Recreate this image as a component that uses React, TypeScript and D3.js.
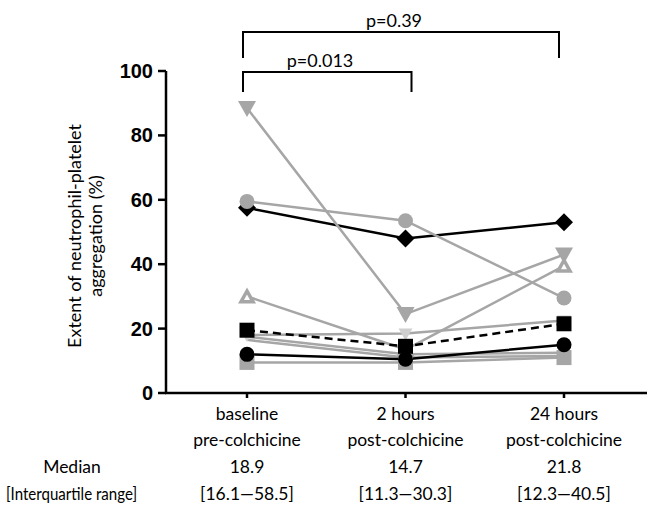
import React from "react";
import * as d3 from "d3";

const catLine1 = ["baseline", "2 hours", "24 hours"];
const catLine2 = ["pre-colchicine", "post-colchicine", "post-colchicine"];
const medians = ["18.9", "14.7", "21.8"];
const iqrs = ["[16.1\u201458.5]", "[11.3\u201430.3]", "[12.3\u201440.5]"];
const yTicks = [0, 20, 40, 60, 80, 100];

// patient series (draw order)
const sDiamondBlack = [57.5, 48, 53];
const sCircleGray = [59.5, 53.5, 29.5];
const sInvTriGray = [88.5, 24.5, 43];
const sTriOpenGray = [30, 13.5, 39.5];
const sInvTriLight = [18, 18.5, 22.5];
const sLineGray1 = [17.5, 12, 12.5];
const sLineGray2 = [16.5, 11, 11.5];
const sSquareGray = [9.5, 9.5, 11];
const sCircleBlack = [12, 10.5, 15];
const sSquareBlack = [19.5, 14.5, 21.5];

const GRAY = "#a6a6a6";
const LIGHT = "#cfcfcf";

type S = { v: number[]; color: string; marker: string; dash?: string; lineColor?: string };
const series: S[] = [
  { v: sLineGray1, color: GRAY, marker: "none" },
  { v: sLineGray2, color: GRAY, marker: "none" },
  { v: sInvTriLight, color: LIGHT, marker: "invtri-small", lineColor: GRAY },
  { v: sDiamondBlack, color: "#000", marker: "diamond" },
  { v: sCircleGray, color: GRAY, marker: "circle" },
  { v: sInvTriGray, color: GRAY, marker: "invtri" },
  { v: sTriOpenGray, color: GRAY, marker: "triopen" },
  { v: sSquareGray, color: GRAY, marker: "square" },
  { v: sCircleBlack, color: "#000", marker: "circle" },
  { v: sSquareBlack, color: "#000", marker: "square", dash: "8,5" },
];

const FONT = "Lato, 'Open Sans', sans-serif";

function Marker({ type, x, y, color }: { type: string; x: number; y: number; color: string }) {
  if (type === "circle") return <circle cx={x} cy={y} r={7.5} fill={color} />;
  if (type === "square") return <rect x={x - 7.5} y={y - 7.5} width={15} height={15} fill={color} />;
  if (type === "diamond")
    return <path d={`M${x},${y - 9}L${x + 9},${y}L${x},${y + 9}L${x - 9},${y}Z`} fill={color} />;
  if (type === "invtri")
    return <path d={`M${x - 9},${y - 7}L${x + 9},${y - 7}L${x},${y + 9}Z`} fill={color} />;
  if (type === "invtri-small")
    return <path d={`M${x - 7},${y - 5}L${x + 7},${y - 5}L${x},${y + 7}Z`} fill={color} />;
  if (type === "triopen")
    return (
      <g>
        <path d={`M${x - 9},${y + 7}L${x + 9},${y + 7}L${x},${y - 9}Z`} fill={color} />
        <path d={`M${x - 3},${y + 3.5}L${x + 3},${y + 3.5}L${x},${y - 2}Z`} fill="#fff" />
      </g>
    );
  return null;
}

export default function App() {
  const W = 654, H = 509;
  const x = d3.scalePoint<number>().domain([0, 1, 2]).range([247, 564]);
  const y = d3.scaleLinear().domain([0, 100]).range([393, 71]);
  const line = d3
    .line<number>()
    .x((_, i) => x(i) as number)
    .y((d) => y(d));
  const axX = 166;
  return (
    <svg width={W} height={H} style={{ position: "absolute", left: 0, top: 0, background: "#fff" }}>
      <rect width={W} height={H} fill="#fff" />
      {/* brackets */}
      <g stroke="#000" strokeWidth={2} fill="none">
        <path d={`M${x(0)! - 4},58V32H${x(2)! - 5}V58`} />
        <path d={`M${x(0)! - 4},92V72H${x(1)! + 6}V92`} />
      </g>
      <text x={394} y={27} textAnchor="middle" fontFamily={FONT} fontSize={18}>p=0.39</text>
      <text x={320} y={67} textAnchor="middle" fontFamily={FONT} fontSize={18}>p=0.013</text>
      {/* axes */}
      <g stroke="#000" strokeWidth={2.5} fill="none">
        <line x1={axX} x2={axX} y1={y(100)} y2={y(0)} />
        <line x1={axX - 1} x2={647} y1={y(0)} y2={y(0)} />
        {yTicks.map((t) => (
          <line key={t} x1={axX - 8} x2={axX} y1={y(t)} y2={y(t)} />
        ))}
        {[0, 1, 2].map((i) => (
          <line key={i} x1={x(i)} x2={x(i)} y1={y(0)} y2={y(0) + 5} />
        ))}
      </g>
      {yTicks.map((t) => (
        <text key={t} x={153} y={y(t) + 7} textAnchor="end" fontFamily="'Liberation Sans', Arial, sans-serif" fontWeight="bold" fontSize={20}>
          {t}
        </text>
      ))}
      <g transform={`translate(81,${(y(0) + y(100)) / 2 + 4}) rotate(-90)`}>
        <text x={0} y={0} textAnchor="middle" fontFamily={FONT} fontSize={18}>Extent of neutrophil-platelet</text>
        <text x={0} y={21} textAnchor="middle" fontFamily={FONT} fontSize={18}>aggregation (%)</text>
      </g>
      {/* lines */}
      {series.map((s, i) => (
        <path key={i} d={line(s.v)!} fill="none" stroke={s.lineColor || s.color} strokeWidth={2.5} strokeDasharray={s.dash} />
      ))}
      {series.map((s, i) =>
        s.v.map((v, j) => <Marker key={`${i}-${j}`} type={s.marker} x={x(j) as number} y={y(v)} color={s.color} />)
      )}
      {/* category labels */}
      {[0, 1, 2].map((i) => (
        <g key={i} fontFamily={FONT} fontSize={17.5} textAnchor="middle">
          <text x={x(i)} y={420}>{catLine1[i]}</text>
          <text x={x(i)} y={446}>{catLine2[i]}</text>
          <text x={x(i)} y={473}>{medians[i]}</text>
          <text x={x(i)} y={500}>{iqrs[i]}</text>
        </g>
      ))}
      <text x={72} y={473} textAnchor="middle" fontFamily={FONT} fontSize={17.5}>Median</text>
      <text x={6} y={500} fontFamily={FONT} fontSize={17} textLength={131} lengthAdjust="spacingAndGlyphs">[Interquartile range]</text>
    </svg>
  );
}
